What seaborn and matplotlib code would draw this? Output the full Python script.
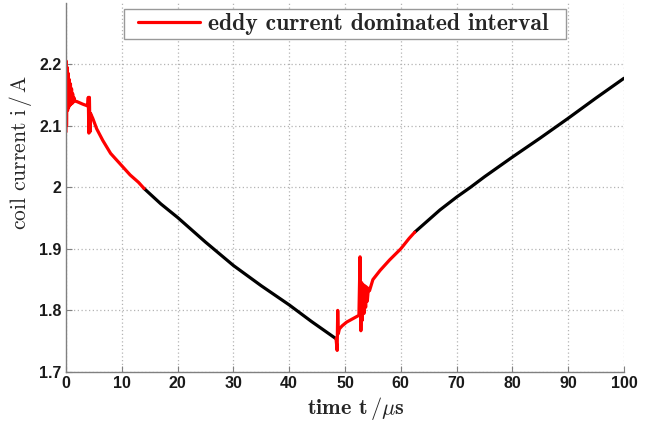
import matplotlib
matplotlib.use("Agg")
import matplotlib.pyplot as plt
from matplotlib.patches import Rectangle
import seaborn as sns
import pandas as pd

# Coil current measurement, split into eddy-current dominated (red) and
# regular (black) intervals.
t_red_1 = [0.0, 0.05, 0.1, 0.2, 0.3, 0.4, 0.5, 0.6, 0.7, 0.8, 0.9, 1.0, 1.1,
           1.2, 1.3, 1.4, 1.6, 2.0, 3.0, 3.9, 4.0, 4.1, 4.2, 4.3, 4.4, 4.8,
           5.5, 6.6, 8.0, 9.7, 11.5, 13.0, 14.0]
i_red_1 = [2.09, 2.205, 2.10, 2.195, 2.125, 2.185, 2.13, 2.175, 2.133, 2.168,
           2.135, 2.16, 2.136, 2.152, 2.138, 2.146, 2.14, 2.139, 2.135, 2.132,
           2.146, 2.088, 2.146, 2.09, 2.12, 2.112, 2.095, 2.076, 2.055, 2.038,
           2.02, 2.008, 1.998]

t_black_1 = [14.0, 17.0, 20.0, 25.0, 30.0, 35.0, 40.0, 44.0, 48.4]
i_black_1 = [1.998, 1.973, 1.951, 1.911, 1.873, 1.840, 1.809, 1.782, 1.754]

t_red_2 = [48.4, 48.6, 48.7, 48.8, 49.0, 49.5, 50.3, 51.5, 52.5, 52.7, 52.85,
           53.0, 53.1, 53.25, 53.4, 53.55, 53.7, 53.85, 54.0, 54.2, 54.4,
           55.0, 56.3, 58.0, 60.0, 61.5, 62.5]
i_red_2 = [1.754, 1.735, 1.800, 1.762, 1.770, 1.775, 1.781, 1.787, 1.792,
           1.887, 1.767, 1.845, 1.784, 1.842, 1.795, 1.840, 1.805, 1.838,
           1.815, 1.836, 1.832, 1.850, 1.865, 1.882, 1.900, 1.917, 1.927]

t_black_2 = [62.5, 65.0, 67.0, 70.0, 72.5, 75.0, 80.0, 85.0, 90.0, 95.0, 100.0]
i_black_2 = [1.927, 1.947, 1.963, 1.984, 2.0, 2.017, 2.049, 2.080, 2.112,
             2.145, 2.177]

x_ticks = [0, 10, 20, 30, 40, 50, 60, 70, 80, 90, 100]
y_ticks = [1.7, 1.8, 1.9, 2.0, 2.1, 2.2]
y_tick_labels = ["1.7", "1.8", "1.9", "2", "2.1", "2.2"]

legend_label = "eddy current dominated interval"

sns.set_theme(style="white")
plt.rcParams["mathtext.fontset"] = "cm"
plt.rcParams["axes.formatter.use_mathtext"] = True

fig = plt.figure(figsize=(6.65, 4.23), dpi=100)
ax = fig.add_axes([0.0992, 0.1206, 0.8391, 0.8734])

segments = [
    (t_black_1, i_black_1, "black", None),
    (t_black_2, i_black_2, "black", None),
    (t_red_1, i_red_1, "#ff0000", legend_label),
    (t_red_2, i_red_2, "#ff0000", None),
]
for t, i, color, label in segments:
    df = pd.DataFrame({"t": t, "i": i})
    sns.lineplot(data=df, x="t", y="i", color=color, lw=2.3, sort=False,
                 estimator=None, label=label, ax=ax, legend=label is not None)

ax.set_xlim(0, 100)
ax.set_ylim(1.7, 2.3)
ax.set_xticks(x_ticks)
ax.set_xticklabels([str(v) for v in x_ticks])
ax.set_yticks(y_ticks)
ax.set_yticklabels(y_tick_labels)

for lab in ax.get_xticklabels() + ax.get_yticklabels():
    lab.set_fontfamily("Liberation Sans")
    lab.set_fontweight("bold")
    lab.set_fontsize(11.5)
    lab.set_color("#1a1a1a")

ax.tick_params(axis="both", direction="in", length=4, width=0.8,
               color="#808080", bottom=True, left=True, pad=3)

ax.grid(True, linestyle=(0, (1, 2)), color="#b4b4b4", linewidth=0.9)
for side in ["top", "right"]:
    ax.spines[side].set_visible(False)
for side in ["left", "bottom"]:
    ax.spines[side].set_color("#808080")
    ax.spines[side].set_linewidth(1.0)

ax.set_xlabel(r"time t$\,/\mu$s", fontfamily="cmb10", fontsize=16)
ax.xaxis.set_label_coords(0.52, -0.063)
ax.set_ylabel(r"coil current i$\,/\,$A", fontfamily="cmr10", fontsize=15.5)
ax.yaxis.set_label_coords(-0.058, 0.595)

# Legend box with wider side margins than the default frame allows
ax.add_patch(Rectangle((0.104, 0.9012), 0.792, 0.0812,
                       transform=ax.transAxes, facecolor="white",
                       edgecolor="#999999", linewidth=1.0, zorder=4,
                       clip_on=False))
leg = ax.legend(loc="center", bbox_to_anchor=(0.497, 0.942),
                frameon=False, handlelength=2.6, handletextpad=0.35,
                borderpad=0.2, borderaxespad=0.0,
                prop={"family": "cmb10", "size": 17})
leg.set_zorder(5)
for line in leg.get_lines():
    line.set_linewidth(2.3)

fig.savefig("out.png", dpi=100)
